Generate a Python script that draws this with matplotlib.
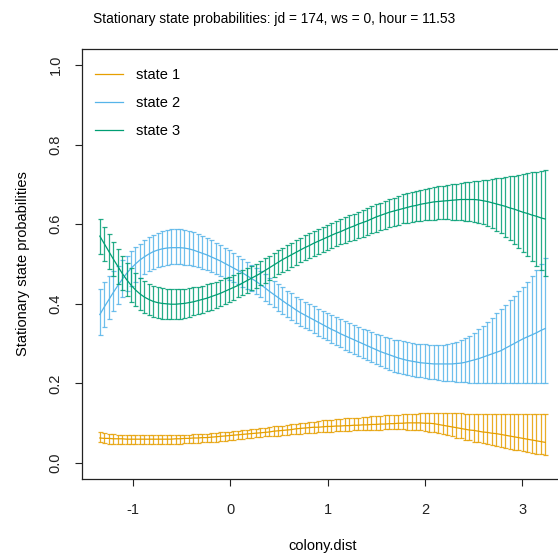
import numpy as np
import matplotlib
matplotlib.use("Agg")
import matplotlib.pyplot as plt

plt.rcParams['font.family'] = ['Liberation Sans', 'DejaVu Sans']

# ---- data ----
x_min, x_max, n_pts = -1.342, 3.234, 101
colony_dist = np.linspace(x_min, x_max, n_pts)

state_names = ["state 1", "state 2", "state 3"]
state_colors = ["#E69F00", "#56B4E9", "#009E73"]

s1_mean = [0.063,0.062,0.062,0.061,0.061,0.061,0.060,0.060,0.060,0.060,
           0.060,0.060,0.060,0.060,0.060,0.060,0.060,0.061,0.061,0.062,
           0.062,0.063,0.063,0.064,0.064,0.065,0.066,0.067,0.068,0.069,
           0.070,0.071,0.072,0.073,0.074,0.075,0.076,0.077,0.078,0.080,
           0.081,0.082,0.083,0.084,0.086,0.087,0.088,0.089,0.090,0.090,
           0.091,0.092,0.092,0.093,0.093,0.094,0.094,0.095,0.095,0.096,
           0.096,0.097,0.097,0.098,0.098,0.099,0.099,0.100,0.100,0.101,
           0.101,0.101,0.101,0.100,0.100,0.099,0.097,0.095,0.093,0.091,
           0.089,0.087,0.085,0.083,0.082,0.080,0.078,0.077,0.075,0.074,
           0.072,0.070,0.068,0.066,0.064,0.062,0.060,0.058,0.056,0.054,
           0.052]
s1_upper = [0.079,0.075,0.073,0.072,0.071,0.071,0.070,0.070,0.070,0.070,
            0.070,0.070,0.070,0.070,0.070,0.070,0.070,0.070,0.071,0.071,
            0.071,0.072,0.073,0.073,0.074,0.075,0.076,0.077,0.078,0.079,
            0.080,0.081,0.082,0.083,0.085,0.086,0.087,0.089,0.090,0.092,
            0.093,0.094,0.096,0.097,0.099,0.100,0.101,0.103,0.104,0.106,
            0.107,0.108,0.109,0.110,0.111,0.112,0.113,0.114,0.114,0.115,
            0.116,0.117,0.118,0.119,0.120,0.121,0.122,0.122,0.123,0.123,
            0.124,0.124,0.125,0.125,0.126,0.126,0.126,0.126,0.125,0.125,
            0.125,0.125,0.124,0.124,0.124,0.124,0.124,0.123,0.123,0.123,
            0.123,0.123,0.123,0.123,0.123,0.123,0.123,0.123,0.123,0.123,
            0.123]
s1_lower = [0.052,0.050,0.049,0.049,0.049,0.049,0.048,0.048,0.048,0.048,
            0.048,0.048,0.048,0.048,0.048,0.048,0.048,0.049,0.049,0.050,
            0.050,0.050,0.051,0.052,0.052,0.053,0.054,0.055,0.056,0.058,
            0.059,0.060,0.061,0.062,0.064,0.065,0.066,0.067,0.067,0.068,
            0.069,0.070,0.071,0.072,0.073,0.074,0.075,0.076,0.076,0.077,
            0.078,0.079,0.079,0.080,0.080,0.081,0.081,0.082,0.082,0.083,
            0.083,0.084,0.084,0.084,0.085,0.085,0.085,0.085,0.085,0.084,
            0.084,0.083,0.082,0.080,0.079,0.077,0.075,0.072,0.070,0.067,
            0.064,0.062,0.059,0.057,0.054,0.052,0.050,0.047,0.045,0.042,
            0.040,0.038,0.036,0.034,0.032,0.030,0.028,0.026,0.024,0.022,
            0.020]

s2_mean = [0.373,0.392,0.410,0.428,0.445,0.461,0.476,0.489,0.500,0.510,
           0.518,0.525,0.531,0.535,0.538,0.540,0.541,0.541,0.541,0.540,
           0.538,0.535,0.531,0.527,0.523,0.518,0.513,0.508,0.502,0.496,
           0.490,0.484,0.478,0.471,0.464,0.457,0.449,0.441,0.432,0.424,
           0.416,0.408,0.400,0.393,0.385,0.378,0.372,0.366,0.360,0.354,
           0.348,0.342,0.336,0.331,0.325,0.320,0.315,0.310,0.305,0.300,
           0.295,0.290,0.285,0.280,0.276,0.272,0.268,0.264,0.261,0.258,
           0.256,0.254,0.252,0.251,0.250,0.249,0.249,0.249,0.249,0.249,
           0.250,0.251,0.253,0.256,0.259,0.262,0.266,0.270,0.274,0.278,
           0.282,0.288,0.294,0.300,0.306,0.312,0.317,0.322,0.327,0.333,
           0.338]
s2_upper = [0.438,0.454,0.469,0.483,0.496,0.509,0.521,0.532,0.542,0.551,
            0.560,0.567,0.573,0.578,0.582,0.585,0.587,0.587,0.587,0.586,
            0.583,0.580,0.576,0.571,0.566,0.560,0.554,0.548,0.541,0.534,
            0.527,0.520,0.513,0.506,0.498,0.491,0.482,0.474,0.465,0.457,
            0.449,0.441,0.433,0.426,0.418,0.411,0.405,0.399,0.394,0.388,
            0.383,0.378,0.372,0.367,0.362,0.357,0.352,0.347,0.343,0.338,
            0.334,0.329,0.325,0.321,0.317,0.313,0.310,0.308,0.306,0.304,
            0.302,0.300,0.299,0.298,0.297,0.296,0.296,0.297,0.299,0.302,
            0.305,0.309,0.314,0.319,0.327,0.336,0.345,0.355,0.365,0.376,
            0.387,0.398,0.409,0.420,0.431,0.443,0.456,0.470,0.484,0.499,
            0.514]
s2_lower = [0.321,0.343,0.363,0.382,0.400,0.416,0.431,0.444,0.456,0.466,
            0.475,0.482,0.488,0.493,0.496,0.498,0.499,0.500,0.499,0.498,
            0.497,0.495,0.492,0.488,0.484,0.480,0.475,0.470,0.465,0.460,
            0.455,0.449,0.443,0.437,0.431,0.424,0.416,0.408,0.400,0.391,
            0.383,0.375,0.367,0.360,0.352,0.345,0.339,0.333,0.326,0.320,
            0.314,0.308,0.302,0.296,0.291,0.285,0.280,0.274,0.269,0.263,
            0.258,0.253,0.248,0.243,0.238,0.233,0.230,0.227,0.224,0.221,
            0.219,0.217,0.215,0.213,0.212,0.210,0.209,0.207,0.206,0.205,
            0.204,0.203,0.203,0.202,0.202,0.201,0.201,0.201,0.200,0.200,
            0.200,0.200,0.200,0.200,0.200,0.200,0.200,0.200,0.200,0.200,
            0.200]

s3_mean = [0.570,0.551,0.532,0.513,0.495,0.477,0.461,0.447,0.435,0.425,
           0.417,0.411,0.406,0.403,0.401,0.400,0.399,0.399,0.400,0.401,
           0.403,0.405,0.408,0.411,0.414,0.418,0.422,0.426,0.431,0.436,
           0.441,0.446,0.452,0.458,0.464,0.470,0.476,0.483,0.490,0.497,
           0.504,0.511,0.517,0.523,0.529,0.535,0.541,0.546,0.552,0.557,
           0.562,0.567,0.572,0.577,0.581,0.586,0.591,0.595,0.600,0.604,
           0.608,0.613,0.618,0.622,0.626,0.630,0.633,0.636,0.639,0.642,
           0.645,0.647,0.650,0.652,0.654,0.656,0.657,0.658,0.659,0.660,
           0.661,0.662,0.662,0.662,0.662,0.661,0.659,0.657,0.654,0.651,
           0.648,0.645,0.641,0.638,0.634,0.630,0.627,0.623,0.620,0.616,
           0.613]
s3_upper = [0.613,0.594,0.575,0.556,0.537,0.519,0.503,0.489,0.477,0.466,
            0.457,0.450,0.445,0.441,0.439,0.438,0.437,0.437,0.437,0.438,
            0.439,0.441,0.443,0.446,0.449,0.452,0.456,0.460,0.464,0.468,
            0.473,0.478,0.484,0.489,0.495,0.501,0.508,0.514,0.521,0.528,
            0.535,0.541,0.547,0.554,0.560,0.566,0.572,0.577,0.583,0.588,
            0.593,0.598,0.603,0.608,0.612,0.617,0.622,0.626,0.631,0.635,
            0.640,0.645,0.650,0.654,0.659,0.663,0.667,0.671,0.675,0.678,
            0.681,0.684,0.686,0.689,0.691,0.693,0.695,0.697,0.699,0.700,
            0.702,0.703,0.705,0.706,0.708,0.709,0.711,0.712,0.714,0.715,
            0.717,0.719,0.720,0.722,0.724,0.726,0.728,0.730,0.731,0.733,
            0.735]
s3_lower = [0.526,0.507,0.488,0.469,0.451,0.435,0.419,0.405,0.394,0.385,
            0.377,0.371,0.367,0.364,0.363,0.363,0.362,0.362,0.363,0.365,
            0.368,0.371,0.374,0.377,0.381,0.385,0.390,0.395,0.400,0.405,
            0.410,0.416,0.422,0.428,0.434,0.440,0.447,0.453,0.460,0.467,
            0.474,0.480,0.486,0.492,0.498,0.504,0.509,0.515,0.520,0.525,
            0.530,0.535,0.540,0.544,0.549,0.553,0.557,0.561,0.565,0.569,
            0.573,0.577,0.581,0.585,0.589,0.593,0.596,0.599,0.602,0.604,
            0.606,0.608,0.609,0.610,0.611,0.611,0.612,0.612,0.612,0.611,
            0.611,0.610,0.609,0.607,0.605,0.603,0.600,0.596,0.591,0.584,
            0.577,0.569,0.561,0.551,0.541,0.531,0.520,0.508,0.496,0.484,
            0.471]

x_ticks = [-1, 0, 1, 2, 3]
y_ticks = [0.0, 0.2, 0.4, 0.6, 0.8, 1.0]
y_tick_labels = ["0.0", "0.2", "0.4", "0.6", "0.8", "1.0"]
title = "Stationary state probabilities: jd = 174, ws = 0, hour = 11.53"

means = [s1_mean, s2_mean, s3_mean]
uppers = [s1_upper, s2_upper, s3_upper]
lowers = [s1_lower, s2_lower, s3_lower]

# ---- figure ----
W, H, DPI = 558, 553, 100
FS = 10.5
fig = plt.figure(figsize=(W / DPI, H / DPI), dpi=DPI)
ax = fig.add_axes([82 / W, (H - 479) / H, (563 - 82) / W, (479 - 49) / H])

for m, u, l, c, name in zip(means, uppers, lowers, state_colors, state_names):
    m = np.array(m); u = np.array(u); l = np.array(l)
    ax.errorbar(colony_dist, m, yerr=[m - l, u - m], fmt='none', ecolor=c,
                elinewidth=0.9, capsize=1.8, capthick=0.9, alpha=0.85)
    ax.plot(colony_dist, m, color=c, lw=0.9, label=name)

ax.set_xlim(-1.525, 3.417)
ax.set_ylim(-0.04, 1.04)
ax.set_xticks(x_ticks)
ax.set_xticklabels([str(t) for t in x_ticks])
ax.set_yticks(y_ticks)
ax.set_yticklabels(y_tick_labels, rotation=90, va='center')
ax.tick_params(axis='both', length=5, width=0.8, labelsize=FS, colors='#222222')
ax.tick_params(axis='x', pad=12)
ax.tick_params(axis='y', pad=9)
for s in ['left', 'top', 'bottom', 'right']:
    ax.spines[s].set_linewidth(0.9)
    ax.spines[s].set_color('#222222')

ax.set_xlabel("colony.dist", fontsize=FS, labelpad=16)
ax.set_ylabel("Stationary state probabilities", fontsize=FS, labelpad=13)

fig.text(274 / W, 1 - 19 / H, title, ha='center', va='center', fontsize=9.9)

leg = ax.legend(loc='upper left', bbox_to_anchor=(95 / W, 1 - 68 / H),
                bbox_transform=fig.transFigure, frameon=False, fontsize=FS,
                handlelength=1.9, handletextpad=0.9, labelspacing=0.95,
                borderaxespad=0, borderpad=0)

fig.savefig("out.png", dpi=DPI)
